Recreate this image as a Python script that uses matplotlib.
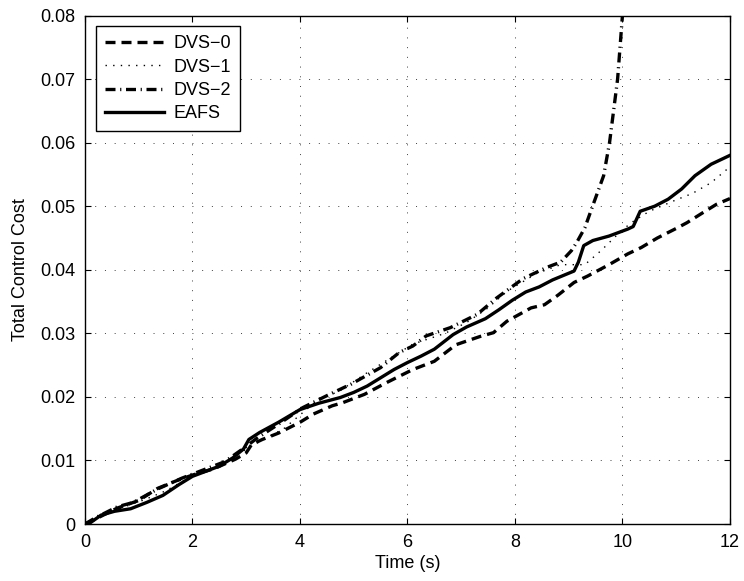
import numpy as np
import matplotlib
matplotlib.use('Agg')
import matplotlib.pyplot as plt

plt.rcParams['font.family'] = ['Liberation Sans', 'DejaVu Sans']

# data
x_eafs = [0, 0.1, 0.3, 0.55, 0.85, 1.15, 1.45, 1.75, 2.0, 2.25, 2.5, 2.75, 2.95, 3.05, 3.25, 3.6,
          4.0, 4.35, 4.75, 5.0, 5.25, 5.5, 5.75, 6.0, 6.25, 6.5, 6.85, 7.1, 7.45, 7.7, 7.95, 8.2,
          8.45, 8.7, 8.9, 9.1, 9.18, 9.28, 9.45, 9.75, 10.1, 10.2, 10.33, 10.6, 10.85, 11.1, 11.35,
          11.65, 12]
y_eafs = [0, 0.0002, 0.0014, 0.002, 0.0024, 0.0034, 0.0045, 0.0062, 0.0075, 0.0083, 0.0091, 0.0104,
          0.0118, 0.0133, 0.0144, 0.016, 0.018, 0.019, 0.0199, 0.0207, 0.0217, 0.023, 0.0243, 0.0254,
          0.0264, 0.0275, 0.0298, 0.031, 0.0323, 0.0337, 0.0352, 0.0365, 0.0373, 0.0384, 0.0391,
          0.0398, 0.0412, 0.0438, 0.0446, 0.0453, 0.0464, 0.0468, 0.0492, 0.050, 0.0511, 0.0527,
          0.0548, 0.0566, 0.058]

x_dvs0 = [0, 0.2, 0.6, 1.0, 1.35, 1.7, 2.0, 2.4, 2.8, 3.0, 3.1, 3.3, 3.6, 4.0, 4.25, 4.6, 4.8, 5.2,
          5.6, 6.1, 6.5, 6.9, 7.35, 7.6, 7.85, 8.3, 8.55, 8.8, 9.1, 9.35, 9.75, 10.1, 10.35, 10.65,
          11.0, 11.2, 11.5, 11.75, 12]
y_dvs0 = [0, 0.0008, 0.0025, 0.0037, 0.0056, 0.0068, 0.0077, 0.0087, 0.0102, 0.0112, 0.0125, 0.0133,
          0.0143, 0.016, 0.0173, 0.0186, 0.0191, 0.0204, 0.0222, 0.0243, 0.0256, 0.0282, 0.0295,
          0.0301, 0.0319, 0.034, 0.0345, 0.036, 0.038, 0.039, 0.0408, 0.0425, 0.0435, 0.045, 0.0465,
          0.0474, 0.049, 0.0503, 0.0512]

x_dvs1 = [0, 0.3, 0.7, 1.1, 1.5, 2.0, 2.5, 3.0, 3.3, 3.7, 4.3, 4.75, 5.25, 5.7, 6.1, 6.7, 7.1, 7.5,
          7.85, 8.4, 8.85, 9.3, 9.6, 10.0, 10.2, 10.5, 11.0, 11.3, 11.65, 12]
y_dvs1 = [0, 0.0012, 0.0026, 0.0038, 0.0052, 0.0076, 0.009, 0.0118, 0.0132, 0.015, 0.0193, 0.021,
          0.0238, 0.0262, 0.0283, 0.030, 0.0317, 0.034, 0.0366, 0.0394, 0.0408, 0.0408, 0.043,
          0.0463, 0.0476, 0.0492, 0.051, 0.052, 0.0537, 0.0562]

x_dvs2 = [0, 0.2, 0.6, 0.9, 1.35, 1.8, 2.2, 2.6, 3.0, 3.2, 3.6, 4.05, 4.55, 4.95, 5.5, 5.85, 6.1,
          6.35, 6.8, 7.3, 7.65, 8.15, 8.6, 8.85, 9.05, 9.15, 9.3, 9.47, 9.65, 9.76, 9.91, 10.0, 10.05]
y_dvs2 = [0, 0.001, 0.0027, 0.0034, 0.0055, 0.0072, 0.0085, 0.0098, 0.0122, 0.0135, 0.0157, 0.0183,
          0.0204, 0.022, 0.0246, 0.027, 0.028, 0.0296, 0.0309, 0.033, 0.0355, 0.0386, 0.0404, 0.0412,
          0.043, 0.0443, 0.0466, 0.0506, 0.0548, 0.060, 0.070, 0.080, 0.09]

labels = ['DVS\u22120', 'DVS\u22121', 'DVS\u22122', 'EAFS']
x_ticks = [0, 2, 4, 6, 8, 10, 12]
y_ticks = [0, 0.01, 0.02, 0.03, 0.04, 0.05, 0.06, 0.07, 0.08]
y_ticklabels = ['0', '0.01', '0.02', '0.03', '0.04', '0.05', '0.06', '0.07', '0.08']

fig = plt.figure(figsize=(7.44, 5.81), dpi=100)
ax = fig.add_axes([0.1142, 0.0981, 0.8669, 0.8752])

lw = 2.4
ax.plot(x_dvs0, y_dvs0, color='k', lw=lw, linestyle=(0, (3.0, 1.8)), label=labels[0])
ax.plot(x_dvs1, y_dvs1, color='k', lw=1.0, linestyle=(0, (1.0, 4.5)), label=labels[1])
ax.plot(x_dvs2, y_dvs2, color='k', lw=lw, linestyle=(0, (3.0, 1.4, 0.35, 1.4)), label=labels[2])
ax.plot(x_eafs, y_eafs, color='k', lw=lw, linestyle='-', label=labels[3])

ax.set_xlim(0, 12)
ax.set_ylim(0, 0.08)
ax.set_xticks(x_ticks)
ax.set_yticks(y_ticks)
ax.set_yticklabels(y_ticklabels)
ax.tick_params(direction='in', length=4, width=0.8, top=True, right=True, labelsize=13, pad=7)
for s in ax.spines.values():
    s.set_linewidth(1.0)

ax.grid(True, color='0.25', lw=0.7, linestyle=(0, (1, 9)))
ax.set_axisbelow(True)

ax.set_xlabel('Time (s)', fontsize=13, labelpad=3)
ax.set_ylabel('Total Control Cost', fontsize=13, labelpad=8)

leg = ax.legend(loc='upper left', fontsize=13, handlelength=3.3, handletextpad=0.5,
                labelspacing=0.35, borderaxespad=0.6, fancybox=False, framealpha=1,
                borderpad=0.5)
leg.get_frame().set_edgecolor('k')
leg.get_frame().set_linewidth(1.0)

fig.savefig('out.png', dpi=100)
